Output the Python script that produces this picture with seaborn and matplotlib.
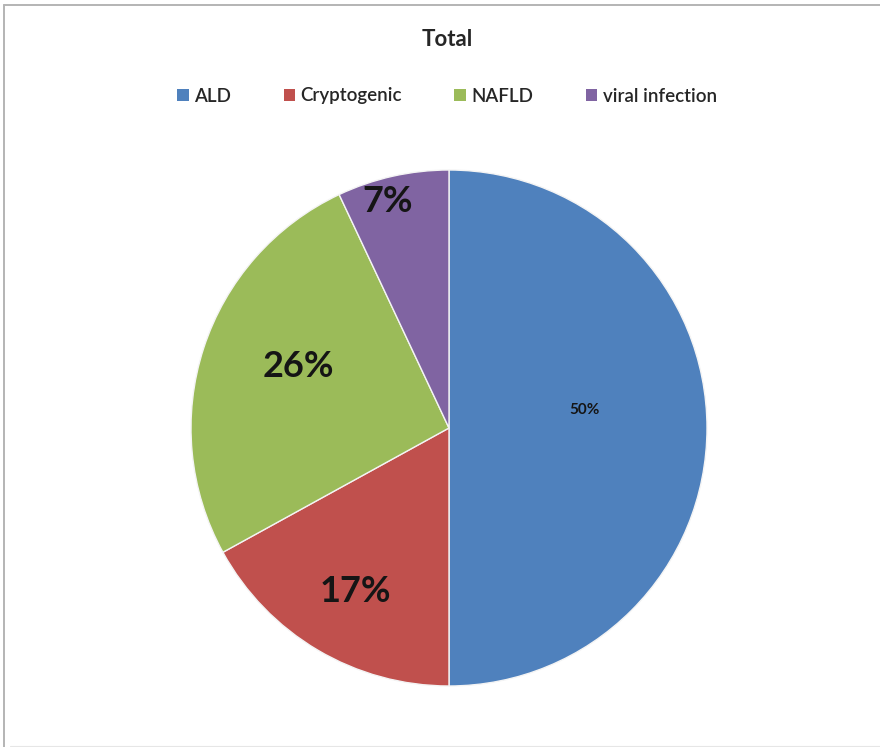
import numpy as np
import matplotlib
matplotlib.use("Agg")
import matplotlib.pyplot as plt
import matplotlib.patches as mpatches
from matplotlib.lines import Line2D
import seaborn as sns

categories = ["ALD", "Cryptogenic", "NAFLD", "viral infection"]
shares = [50, 17, 26, 7]
label_texts = ["50%", "17%", "26%", "7%"]
colors = ["#4F81BD", "#C0504D", "#9BBB59", "#8064A2"]

# label styling / placement inside each wedge
label_sizes = [11, 26, 26, 26]
label_radii = [0.53, 0.72, 0.636, 0.922]
label_angle_shift = [8.4, 0.2, -5.0, 2.3]

sns.set_theme(style="white")
plt.rcParams["font.family"] = ["Lato", "DejaVu Sans"]

W, H = 880, 747
fig = plt.figure(figsize=(W / 100, H / 100), dpi=100)
fig.patch.set_facecolor("white")

# chart-area frame: top and left edges, faint bottom edge
fig.add_artist(Line2D([4 / W, 1.0], [1 - 5 / H, 1 - 5 / H], transform=fig.transFigure,
                      color="#b4b4b4", linewidth=1.4))
fig.add_artist(Line2D([4 / W, 4 / W], [1 - 5 / H, 0.0], transform=fig.transFigure,
                      color="#b4b4b4", linewidth=1.4))
fig.add_artist(Line2D([10 / W, 1.0], [1.2 / H, 1.2 / H], transform=fig.transFigure,
                      color="#e6e6e6", linewidth=0.8))

cx, cy, r = 449 / W, 1 - 428 / H, 258
ax = fig.add_axes([cx - r / W, cy - r / H, 2 * r / W, 2 * r / H])
wedges, _ = ax.pie(shares, colors=colors, startangle=90, counterclock=False,
                   wedgeprops=dict(edgecolor="#f4f4f4", linewidth=1.0))
ax.set_xlim(-1, 1)
ax.set_ylim(-1, 1)
ax.set_aspect("equal")
ax.axis("off")

for w, txt, fs, rad, dth in zip(wedges, label_texts, label_sizes, label_radii,
                                label_angle_shift):
    mid = np.deg2rad((w.theta1 + w.theta2) / 2 + dth)
    ax.text(rad * np.cos(mid), rad * np.sin(mid), txt, ha="center",
            va="center_baseline", fontsize=fs, fontweight="bold", color="#151515")

fig.text(447 / W, 1 - 37 / H, "Total", ha="center", va="center_baseline",
         fontsize=16, fontweight="bold", color="#262626")

handles = [mpatches.Patch(facecolor=c, edgecolor="none") for c in colors]
fig.legend(handles, categories, loc="center", bbox_to_anchor=(447 / W, 1 - 96 / H),
           ncol=4, frameon=False, fontsize=13.5, handlelength=0.6, handleheight=0.6,
           handletextpad=0.3, columnspacing=2.8, labelcolor="#262626",
           prop=dict(family=["Lato", "DejaVu Sans"], size=13.5, weight="semibold"))

fig.savefig("out.png", dpi=100, facecolor="white")
